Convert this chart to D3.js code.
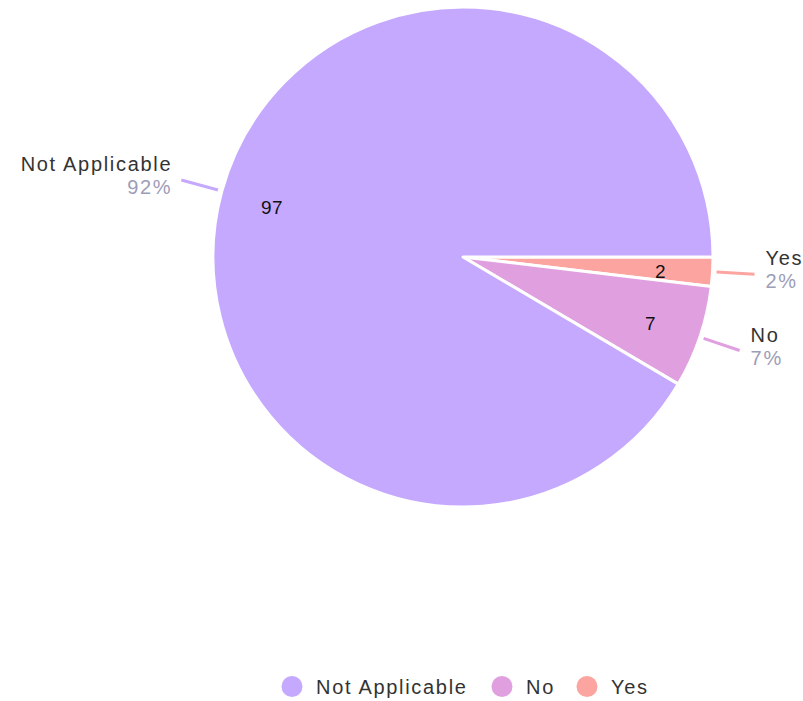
<!DOCTYPE html>
<html><head><meta charset="utf-8">
<script src="https://cdn.jsdelivr.net/npm/d3@7"></script>
<style>body{margin:0;background:#fff;font-family:"Liberation Sans",Arial,sans-serif;}</style>
</head><body>
<svg id="c" width="803" height="701"></svg>
<script>
const categories = ["Yes", "No", "Not Applicable"];
const values = [2, 7, 97];
const colors = ["#fca4a0", "#e0a0e0", "#c5a9fe"];
const legendOrder = ["Not Applicable", "No", "Yes"];

const svg = d3.select("#c");
const cx = 463, cy = 257, R = 250;
const total = d3.sum(values);
const data = categories.map((c, i) => ({name: c, value: values[i], color: colors[i]}));
const pie = d3.pie().value(d => d.value).sort(null).startAngle(Math.PI / 2).endAngle(Math.PI / 2 + 2 * Math.PI);
const arcs = pie(data);
const arc = d3.arc().innerRadius(0).outerRadius(R);
const g = svg.append("g").attr("transform", `translate(${cx},${cy})`);
g.selectAll("path.s").data(arcs).join("path").attr("class", "s")
  .attr("d", arc).attr("fill", d => d.data.color)
  .attr("stroke", "#fff").attr("stroke-width", 3).attr("stroke-linejoin", "round");

const inner = d3.arc().innerRadius(198).outerRadius(198);
g.selectAll("text.v").data(arcs).join("text").attr("class", "v")
  .attr("transform", d => `translate(${inner.centroid(d)})`)
  .attr("text-anchor", "middle").attr("dy", "0.5em")
  .attr("font-size", 19).attr("letter-spacing", 0.5).attr("fill", "#111").text(d => d.data.value);

const a1 = d3.arc().innerRadius(R + 4).outerRadius(R + 4);
const a2 = d3.arc().innerRadius(R + 42).outerRadius(R + 42);
arcs.forEach(d => {
  const p1 = a1.centroid(d), p2 = a2.centroid(d);
  const right = p2[0] > 0;
  g.append("line").attr("x1", p1[0]).attr("y1", p1[1]).attr("x2", p2[0]).attr("y2", p2[1])
    .attr("stroke", d.data.color).attr("stroke-width", 3);
  const tx = p2[0] + (right ? 11 : -9);
  g.append("text").attr("x", tx).attr("y", p2[1] - 9).attr("text-anchor", right ? "start" : "end")
    .attr("font-size", 20).attr("letter-spacing", 1.7).attr("fill", "#333").text(d.data.name);
  g.append("text").attr("x", tx).attr("y", p2[1] + 14).attr("text-anchor", right ? "start" : "end")
    .attr("font-size", 20).attr("letter-spacing", 1.7).attr("fill", "#9d9db8").text(Math.round(d.data.value / total * 100) + "%");
});

const legendX = [292, 502, 587];
const lg = svg.append("g");
legendOrder.forEach((n, i) => {
  const d = data.find(e => e.name === n);
  lg.append("circle").attr("cx", legendX[i]).attr("cy", 686.5).attr("r", 10.5).attr("fill", d.color);
  lg.append("text").attr("x", legendX[i] + 24).attr("y", 686.5).attr("dy", "0.36em")
    .attr("font-size", 20).attr("letter-spacing", 1.7).attr("fill", "#333").text(n);
});
</script>
</body></html>
